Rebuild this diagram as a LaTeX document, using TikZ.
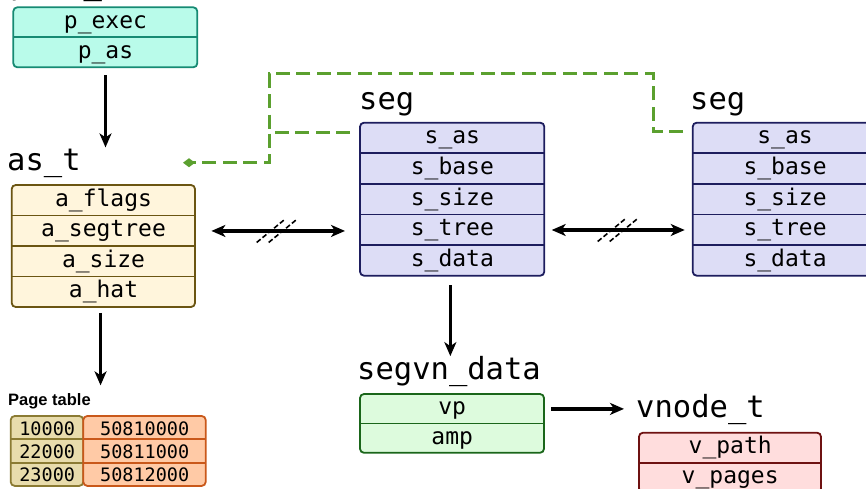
\documentclass[tikz,border=0pt]{standalone}
\usepackage{fontspec}
\setmonofont{DejaVu Sans Mono}
\newfontfamily\pgfontfam{Liberation Sans}
\usetikzlibrary{arrows.meta}
\definecolor{procF}{HTML}{B9FBEA}\definecolor{procD}{HTML}{168A73}
\definecolor{asF}{HTML}{FFF5DC}\definecolor{asD}{HTML}{6B5512}
\definecolor{ptlF}{HTML}{E8DCAC}\definecolor{ptlD}{HTML}{8B7B33}
\definecolor{ptrF}{HTML}{FFCAA6}\definecolor{ptrD}{HTML}{C9581A}
\definecolor{segF}{HTML}{DDDDF6}\definecolor{segD}{HTML}{1D1D5E}
\definecolor{svnF}{HTML}{DDFBDD}\definecolor{svnD}{HTML}{1A661A}
\definecolor{vnF}{HTML}{FFDDDD}\definecolor{vnD}{HTML}{6E1111}
\definecolor{grn}{HTML}{5BA02F}
\newcommand{\ttlfont}{\ttfamily\fontsize{30.5}{32}\selectfont}
\newcommand{\rowfont}{\ttfamily\fontsize{23}{25}\selectfont}
\newcommand{\tabfont}{\ttfamily\fontsize{18.5}{20}\selectfont}
\tikzset{
  ttl/.style={font=\ttlfont, inner sep=0pt, anchor=base west},
  rowtxt/.style={font=\rowfont, text height=16.5pt, text depth=5pt},
  tabtxt/.style={font=\tabfont, text height=14.5pt, text depth=0pt},
  fieldnode/.style={inner sep=0pt},
  arr/.style={line width=3.2pt, -{Stealth[length=14pt,width=12pt,inset=4pt]}},
  dbl/.style={line width=3.2pt, {Stealth[length=14pt,width=12pt,inset=4pt]}-{Stealth[length=14pt,width=12pt,inset=4pt]}},
  hashmark/.style={line width=1.6pt, dash pattern=on 5pt off 2.5pt},
  gdash/.style={draw=grn, line width=3pt, dash pattern=on 14pt off 6.5pt},
}
% #1 name #2 x #3 y #4 width #5 row height #6 fill #7 draw #8 text style #9 fields
\newcommand{\recbox}[9]{%
  \foreach \fld [count=\i] in {#9} {\xdef\nrows{\i}}%
  \draw[draw=#7, fill=#6, line width=1.8pt, rounded corners=4pt] (#2,#3) rectangle ++(#4,{\nrows*#5});
  \foreach \fld [count=\i] in {#9} {%
    \node[fieldnode, #8, minimum width=#4 pt, minimum height=#5 pt, anchor=north west] (#1-\i) at (#2,{#3+(\i-1)*#5}) {\fld};
    \ifnum\i>1 \draw[draw=#7, line width=1.8pt] (#2,{#3+(\i-1)*#5}) -- ++(#4,0);\fi
  }%
}
\begin{document}
\begin{tikzpicture}[x=1pt,y=-1pt]
\useasboundingbox (0,0) rectangle (866,489);
% titles
\node[ttl] (proctitle) at (10,-5) {proc\_t};
\node[ttl] (astitle) at (7,171) {as\_t};
\node[ttl] (segtitle) at (359,110) {seg};
\node[ttl] (segbtitle) at (690,110) {seg};
\node[ttl] (svntitle) at (357,379.5) {segvn\_data};
\node[ttl] (vntitle) at (636,417) {vnode\_t};
\node[font=\pgfontfam\bfseries\fontsize{16.5}{18}\selectfont, inner sep=0pt, anchor=base west] (pgtitle) at (8,405.5) {Page table};
% boxes
\recbox{proc}{13.3}{7.3}{184}{30}{procF}{procD}{rowtxt}{p\_exec,p\_as}
\recbox{as}{11.7}{185}{183.3}{30.5}{asF}{asD}{rowtxt}{a\_flags,a\_segtree,a\_size,a\_hat}
\recbox{seg}{360}{122.7}{184.3}{30.6}{segF}{segD}{rowtxt}{s\_as,s\_base,s\_size,s\_tree,s\_data}
\recbox{segb}{692.7}{122.7}{184.3}{30.6}{segF}{segD}{rowtxt}{s\_as,s\_base,s\_size,s\_tree,s\_data}
\recbox{svn}{360}{394}{184}{29.4}{svnF}{svnD}{rowtxt}{vp,amp}
\recbox{vn}{639}{432.7}{182}{30}{vnF}{vnD}{rowtxt}{v\_path,v\_pages}
\recbox{ptl}{10.7}{416}{72.6}{23.3}{ptlF}{ptlD}{tabtxt}{10000,22000,23000}
\recbox{ptr}{83.3}{416}{122.4}{23.3}{ptrF}{ptrD}{tabtxt}{50810000,50811000,50812000}
% arrows
\draw[arr, shorten >=2pt] ([yshift=-7.5pt]proc-2.south) -- (proc-2.south |- astitle.north);
\draw[arr, shorten >=8pt] ([xshift=-3pt,yshift=-5.5pt]as-4.south) -- ([xshift=-3pt]as-4.south |- pgtitle.north);
\draw[arr, shorten >=0pt] ([xshift=-2pt,yshift=-9pt]seg-5.south) -- ([xshift=-2pt]seg-5.south |- svntitle.north);
\draw[arr, shorten <=7pt, shorten >=12pt] (svn-1.east) -- (svn-1.east -| vntitle.west);
% double arrows with break marks
\draw[dbl, shorten <=16pt, shorten >=15pt] (as-2.east) -- (as-2.east -| seg-1.west);
\path (as-2.east) -- (as-2.east -| seg-1.west) coordinate[pos=.5] (h1);
\draw[hashmark] ([shift={(-21,11.5)}]h1) -- ++(28,-23);
\draw[hashmark] ([shift={(-9,11.5)}]h1) -- ++(28,-23);
\draw[dbl, shorten <=7pt, shorten >=8pt] (seg-4.east) -- (segb-4.west);
\path (seg-4.east) -- (segb-4.west) coordinate[pos=.5] (h2);
\draw[hashmark] ([shift={(-21,11.5)}]h2) -- ++(28,-23);
\draw[hashmark] ([shift={(-9,11.5)}]h2) -- ++(28,-23);
% green dashed pointers
\coordinate (gleft) at (269,74);
\coordinate (gright) at (653,74);
\coordinate (gtip) at (183,162.7);
\draw[gdash, -{Diamond[length=12pt,width=9pt]}] ([xshift=-10pt,yshift=5.5pt]seg-1.west) coordinate (gs1) -| (gleft |- gtip) -- (gtip);
\draw[gdash] ([xshift=-9.5pt,yshift=6.5pt]segb-1.west) -| (gright) -| (gleft |- gs1);
\end{tikzpicture}
\end{document}
